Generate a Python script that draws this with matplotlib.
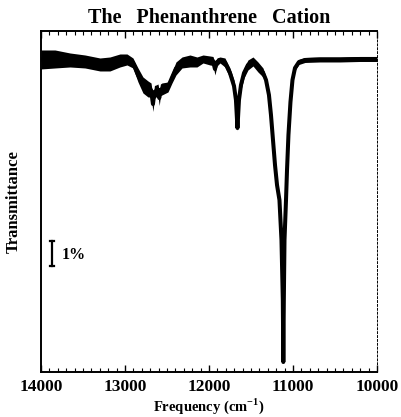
import numpy as np
import matplotlib
matplotlib.use("Agg")
import matplotlib.pyplot as plt
from matplotlib.ticker import MultipleLocator

# spectrum: frequency (cm-1), transmittance (%), noise half-width (%)
freq = [14000, 13833, 13655, 13476, 13298, 13179, 13060, 12976, 12905, 12845,
        12786, 12726, 12690, 12667, 12649, 12631, 12607, 12592, 12578, 12560,
        12488, 12440, 12393, 12321, 12226, 12143, 12071, 11988, 11952, 11929,
        11905, 11869, 11810, 11750, 11702, 11679, 11661, 11643, 11619, 11583,
        11536, 11476, 11417, 11357, 11321, 11286, 11262, 11238, 11214, 11190,
        11161, 11137, 11121, 11115, 11109, 11101, 11083, 11071, 11054, 11030,
        11006, 10976, 10929, 10857, 10679, 10440, 10202, 10000]
trans = [99.94, 99.96, 99.92, 99.86, 99.74, 99.76, 99.90, 99.94, 99.80, 99.32,
         98.92, 98.76, 98.72, 98.16, 98.64, 98.68, 98.72, 98.40, 98.72, 98.76,
         98.84, 99.22, 99.58, 99.82, 99.88, 99.84, 99.96, 99.90, 99.88, 99.56,
         99.84, 99.92, 99.82, 99.40, 98.88, 98.32, 97.20, 98.32, 98.92, 99.40,
         99.72, 99.86, 99.64, 99.42, 99.12, 98.52, 97.72, 96.72, 95.72, 94.92,
         94.32, 92.72, 90.32, 87.84, 90.32, 92.72, 94.32, 95.52, 96.92, 98.24,
         99.12, 99.60, 99.84, 99.92, 99.94, 99.94, 99.96, 99.96]
noise = [0.38, 0.36, 0.28, 0.26, 0.26, 0.28, 0.26, 0.22, 0.20, 0.28,
         0.32, 0.32, 0.28, 0.30, 0.26, 0.24, 0.24, 0.30, 0.24, 0.24,
         0.20, 0.22, 0.26, 0.22, 0.24, 0.20, 0.16, 0.18, 0.18, 0.24,
         0.16, 0.12, 0.18, 0.20, 0.24, 0.20, 0.12, 0.20, 0.20, 0.20,
         0.20, 0.18, 0.20, 0.18, 0.12, 0.10, 0.08, 0.08, 0.08, 0.08,
         0.08, 0.06, 0.06, 0.06, 0.06, 0.06, 0.08, 0.08, 0.08, 0.08,
         0.10, 0.10, 0.10, 0.10, 0.10, 0.10, 0.10, 0.10]

# 1% scale bar
bar_freq = 13869
bar_lo, bar_hi = 91.68, 92.69

SERIF = ["Liberation Serif", "DejaVu Serif"]


def main():
    plt.rcParams["font.family"] = SERIF
    plt.rcParams["font.weight"] = "bold"
    plt.rcParams["mathtext.fontset"] = "custom"
    plt.rcParams["mathtext.bf"] = "Liberation Serif:bold"
    plt.rcParams["mathtext.rm"] = "Liberation Serif:bold"

    f = np.array(freq)
    t = np.array(trans)
    n = np.array(noise)

    fig = plt.figure(figsize=(4.01, 4.17), dpi=100)
    ax = fig.add_axes([0.1022, 0.1079, 0.8379, 0.8178])

    ax.fill_between(f, t - n, t + n, color="black", lw=0)
    ax.plot(f, t, color="black", lw=2.9, solid_joinstyle="round")

    # scale bar
    ax.plot([bar_freq, bar_freq], [bar_lo, bar_hi], color="black", lw=1.6)
    ax.plot([bar_freq - 28, bar_freq + 28], [bar_lo, bar_lo], color="black", lw=1.6)
    ax.plot([bar_freq - 28, bar_freq + 28], [bar_hi, bar_hi], color="black", lw=1.6)
    ax.text(bar_freq - 110, (bar_lo + bar_hi) / 2 - 0.05, "1%", fontsize=11.5,
            fontweight="bold", ha="left", va="center")

    ax.set_xlim(14000, 10000)
    ax.set_ylim(87.44, 101.08)

    ax.xaxis.set_major_locator(MultipleLocator(1000))
    ax.xaxis.set_minor_locator(MultipleLocator(100))
    ax.tick_params(axis="x", which="both", direction="in", top=True, bottom=True)
    ax.tick_params(axis="x", which="major", length=5, width=1.0, labelsize=12.5, pad=5)
    ax.tick_params(axis="x", which="minor", length=3, width=0.8)
    ax.set_yticks([])

    for side in ["left", "top", "bottom"]:
        ax.spines[side].set_linewidth(1.4)
    ax.spines["right"].set_linewidth(0.7)
    ax.spines["right"].set_linestyle((0, (2, 2)))

    ax.set_title("The   Phenanthrene   Cation", fontsize=14.5, fontweight="bold", pad=6)
    ax.set_xlabel("Frequency (cm$^{-1}$)", fontsize=10.5, fontweight="bold", labelpad=1)
    ax.set_ylabel("Transmittance", fontsize=12, fontweight="bold", labelpad=14)

    fig.savefig("out.png", dpi=100)
    plt.close(fig)


if __name__ == "__main__":
    main()
